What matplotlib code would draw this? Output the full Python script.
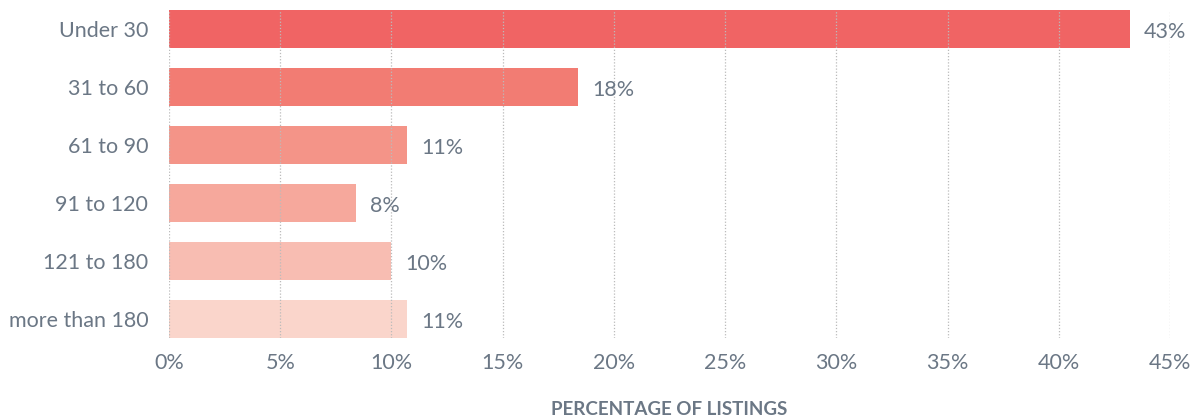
import matplotlib.pyplot as plt
from matplotlib.ticker import FuncFormatter

# data
categories = ["Under 30", "31 to 60", "61 to 90", "91 to 120", "121 to 180", "more than 180"]
values = [43.2, 18.4, 10.7, 8.4, 10.0, 10.7]
value_labels = ["43%", "18%", "11%", "8%", "10%", "11%"]
colors = ["#F06464", "#F27C73", "#F49488", "#F6A89C", "#F8BDB2", "#FAD5CB"]

text_color = "#6B7785"
plt.rcParams["font.family"] = ["Lato", "DejaVu Sans"]

fig = plt.figure(figsize=(12.01, 4.17), dpi=100)
ax = fig.add_axes([169 / 1201, 1 - 338 / 417, (1170 - 169) / 1201, 328 / 417])

pos = list(range(len(categories)))
ax.barh(pos, values, height=0.655, color=colors, zorder=1)

for p, v, lab in zip(pos, values, value_labels):
    ax.annotate(lab, (v, p), xytext=(10, -2), textcoords="offset points",
                va="center", ha="left", fontsize=15.5, color=text_color)

ax.set_ylim(len(categories) - 1 + 0.3275, -0.3275)
ax.set_xlim(0, 45)
ax.set_xticks(range(0, 46, 5))
ax.xaxis.set_major_formatter(FuncFormatter(lambda x, _: f"{int(x)}%"))
ax.set_yticks(pos)
ax.set_yticklabels(categories)

ax.grid(axis="x", color="#BBBBBB", linestyle=(0, (1, 1.5)), linewidth=0.9, zorder=2)
ax.set_axisbelow(False)
for s in ax.spines.values():
    s.set_visible(False)
ax.tick_params(axis="both", length=0, colors=text_color, labelsize=15.5)
ax.tick_params(axis="y", pad=15)
ax.tick_params(axis="x", pad=11)

ax.set_xlabel("PERCENTAGE OF LISTINGS", fontsize=13.5, color=text_color,
              fontweight="bold", labelpad=20)

fig.savefig("out.png", dpi=100)
